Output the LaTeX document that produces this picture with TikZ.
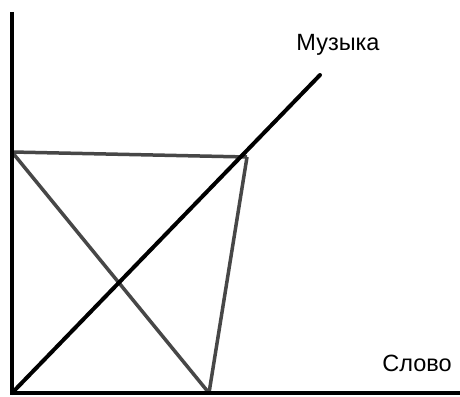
\documentclass[tikz,border=0pt]{standalone}
\usepackage{fontspec}
\setmainfont{Liberation Sans}
\begin{document}
\begin{tikzpicture}[x=1pt,y=-1pt,
  axis/.style={line width=3.4pt,black},
  main/.style={line width=4pt,black,line cap=round},
  aux/.style={line width=3.5pt,draw=black!72},
  lbl/.style={font=\fontsize{23.5}{27}\selectfont,inner sep=0pt}]
\useasboundingbox (0,0) rectangle (460,396);
\fill[white] (0,0) rectangle (460,396);
\coordinate (O) at (12,393);
\coordinate (Ytop) at (12,12);
\coordinate (Xend) at (460,393);
\coordinate (A) at (12,152);
\coordinate (B) at (247,157);
\coordinate (C) at (209,393);
\coordinate (M) at (320,75);
\draw[aux] (A) -- (B);
\draw[aux] (A) -- (C);
\draw[aux] (B) -- (C);
\draw[main] (O) -- (M);
\draw[axis] (Ytop) -- (O) -- (Xend);
\node[lbl] (music) at (338,45) {Музыка};
\node[lbl] (word) at (417,363) {Слово};
\end{tikzpicture}
\end{document}
